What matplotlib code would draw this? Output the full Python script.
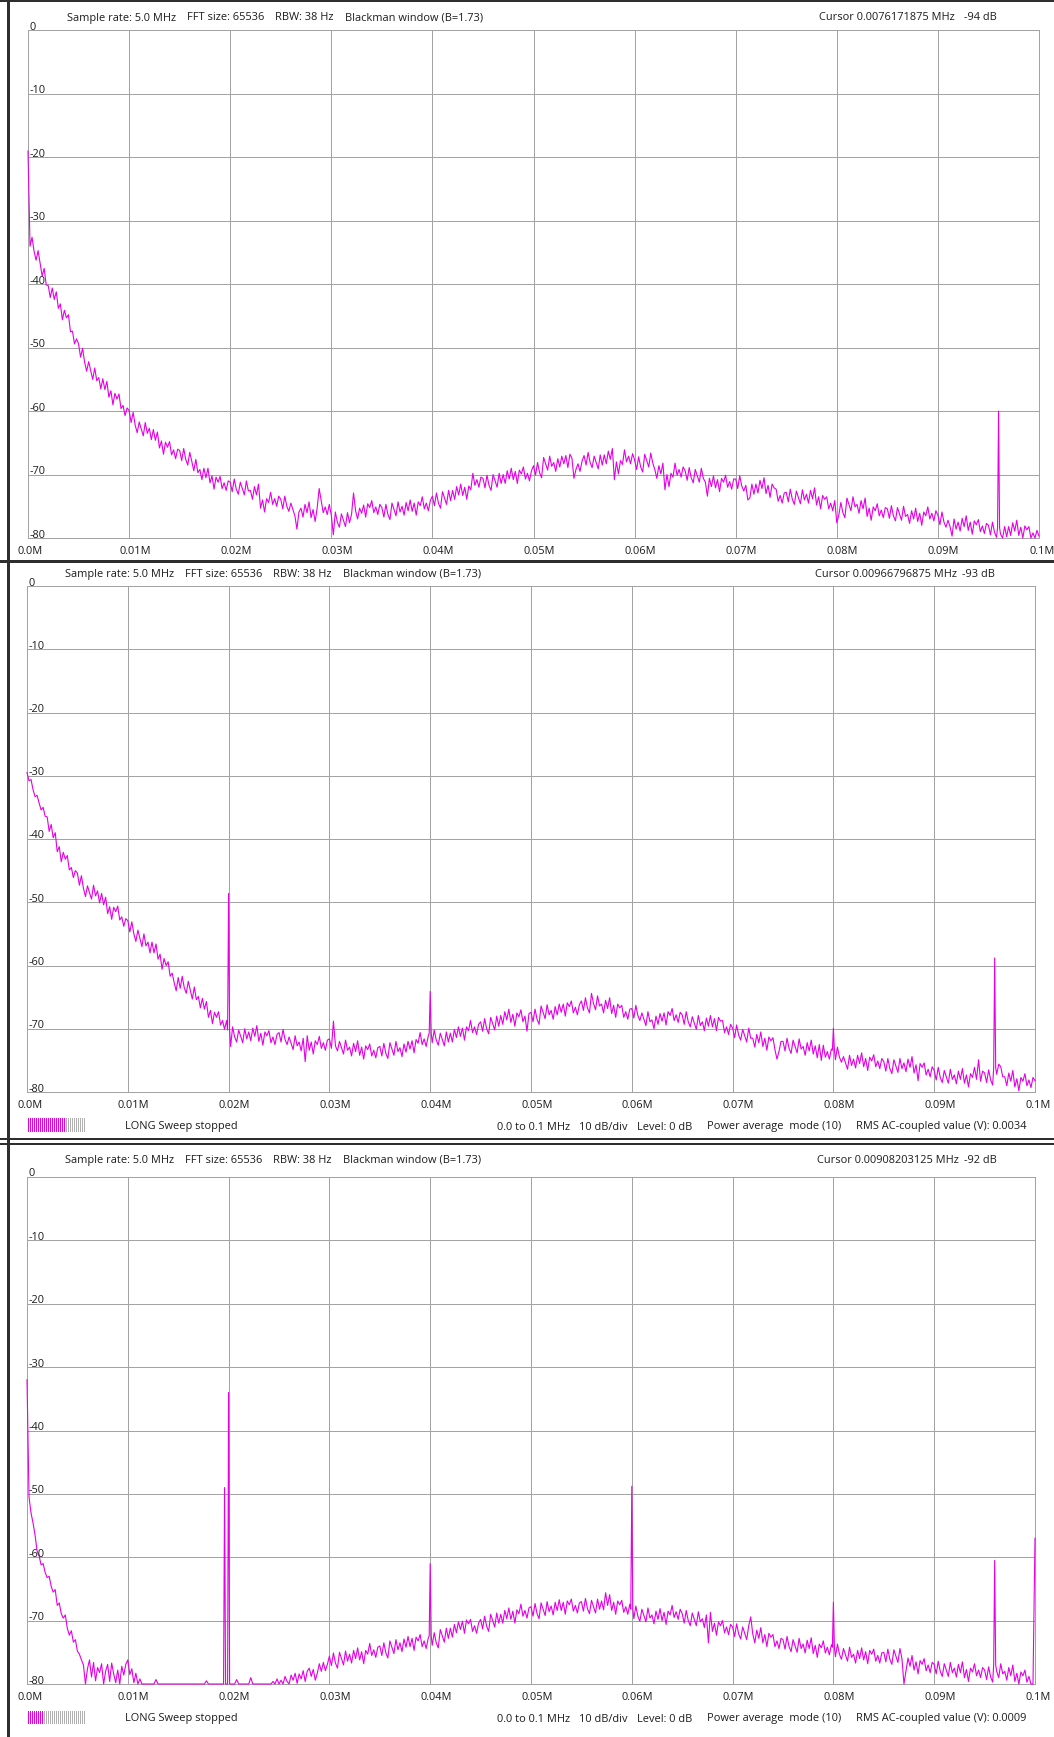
import numpy as np
import matplotlib
matplotlib.use("Agg")
import matplotlib.pyplot as plt
from matplotlib.lines import Line2D
from matplotlib.transforms import ScaledTranslation, blended_transform_factory

plt.rcParams['font.family'] = ['Open Sans', 'DejaVu Sans']

# ---------------------------------------------------------------- data
x_ticks = [0.0, 0.01, 0.02, 0.03, 0.04, 0.05, 0.06, 0.07, 0.08, 0.09, 0.1]
x_tick_labels = ["0.0M", "0.01M", "0.02M", "0.03M", "0.04M", "0.05M",
                 "0.06M", "0.07M", "0.08M", "0.09M", "0.1M"]
y_ticks = [0, -10, -20, -30, -40, -50, -60, -70, -80]
y_tick_labels = ["0", "-10", "-20", "-30", "-40", "-50", "-60", "-70", "-80"]

# Averaged spectrum levels (dB), one value every 0.2 kHz from 0 to 0.1 MHz
level_a = [
    -19.0, -34.0, -32.6, -34.8, -36.2, -34.7, -36.7, -38.7, -37.5, -40.1, -40.2, -42.1, -40.6, -42.4, -41.2,
    -43.8, -43.1, -45.6, -44.1, -45.3, -44.8, -47.5, -47.4, -49.4, -48.6, -49.4, -51.5, -50.1, -52.3, -53.7,
    -52.2, -53.6, -55.0, -53.2, -55.2, -54.7, -56.5, -54.9, -56.6, -55.3, -57.8, -56.8, -59.0, -57.2, -58.1,
    -57.3, -59.6, -59.1, -60.7, -59.5,
    -59.9, -61.8, -60.2, -62.2, -63.4, -61.7, -62.8, -63.9, -61.8, -63.5, -62.7, -64.5, -62.9, -64.6, -63.3,
    -65.8, -64.7, -66.8, -64.9, -65.7, -64.8, -66.9, -66.1, -67.5, -66.0, -66.2, -67.8, -65.9, -67.6, -68.5,
    -66.5, -67.9, -69.4, -67.6, -69.7, -69.2, -70.8, -69.0, -70.5, -69.0, -71.3, -70.2, -72.3, -70.4, -71.2,
    -70.3, -72.2, -71.3, -72.5, -71.0,
    -71.2, -72.7, -70.7, -72.3, -73.1, -71.2, -72.2, -73.2, -71.0, -72.6, -72.5, -73.9, -71.9, -73.2, -71.5,
    -75.3, -74.0, -75.9, -73.8, -74.4, -72.8, -74.7, -73.8, -75.0, -73.4, -73.9, -75.4, -73.4, -75.0, -75.8,
    -74.5, -75.5, -76.5, -78.6, -75.9, -75.3, -76.7, -74.7, -76.0, -74.3, -76.8, -75.5, -77.4, -75.3, -72.2,
    -74.1, -76.0, -75.1, -76.3, -74.7,
    -76.4, -79.5, -75.9, -77.5, -78.3, -76.2, -77.2, -78.2, -76.0, -77.6, -76.3, -72.9, -75.7, -77.0, -75.3,
    -76.1, -74.8, -76.7, -74.6, -75.2, -74.1, -76.0, -75.1, -76.3, -74.7, -75.2, -76.7, -74.7, -76.3, -77.1,
    -74.5, -75.5, -76.5, -74.3, -75.9, -75.0, -76.4, -74.4, -75.7, -74.0, -75.8, -74.5, -76.4, -74.3, -74.9,
    -73.5, -75.4, -74.5, -75.7, -74.1,
    -73.4, -74.9, -72.9, -74.5, -75.3, -72.7, -73.7, -74.7, -72.5, -74.1, -72.5, -73.9, -71.9, -73.2, -71.5,
    -73.3, -72.0, -73.9, -71.8, -72.4, -69.8, -71.7, -70.8, -72.0, -70.4, -70.6, -72.1, -70.1, -71.7, -72.5,
    -70.0, -71.0, -72.0, -69.8, -71.4, -70.0, -71.4, -69.4, -70.7, -69.0, -70.8, -69.5, -71.4, -69.3, -69.9,
    -68.8, -70.7, -69.8, -71.0, -69.4,
    -68.6, -70.1, -68.1, -69.7, -70.5, -67.3, -68.3, -69.3, -67.1, -68.7, -68.1, -69.5, -67.5, -68.8, -67.1,
    -68.3, -67.0, -68.9, -66.8, -67.4, -70.6, -69.2, -68.3, -69.5, -67.9, -67.0, -68.5, -66.5, -68.1, -68.9,
    -67.1, -68.1, -69.1, -66.9, -68.5, -66.9, -68.3, -66.3, -67.6, -65.9, -70.8, -68.0, -69.9, -67.8, -68.4,
    -66.1, -68.0, -67.1, -68.3, -66.7,
    -67.7, -69.2, -67.2, -68.8, -69.6, -66.8, -67.8, -68.8, -66.6, -68.2, -69.2, -70.6, -68.6, -69.9, -68.2,
    -72.4, -70.0, -71.9, -69.8, -70.4, -68.2, -70.1, -69.2, -70.4, -68.8, -69.4, -70.9, -68.9, -70.5, -71.3,
    -69.2, -70.2, -71.2, -69.0, -70.6, -71.2, -73.4, -70.6, -71.9, -70.2, -72.1, -70.8, -72.7, -70.6, -71.2,
    -70.1, -72.0, -71.1, -72.3, -70.7,
    -70.7, -72.2, -70.2, -71.8, -72.6, -71.7, -74.0, -73.7, -71.5, -73.1, -71.5, -72.9, -70.9, -72.2, -70.5,
    -73.0, -71.7, -73.6, -71.5, -72.1, -72.3, -74.2, -73.3, -74.5, -72.9, -72.8, -74.3, -72.3, -73.9, -74.7,
    -72.6, -73.6, -74.6, -72.4, -74.0, -73.1, -74.5, -72.5, -73.8, -72.1, -74.8, -73.5, -75.4, -73.3, -73.9,
    -73.5, -75.4, -74.5, -75.7, -74.1,
    -77.6, -76.4, -74.4, -76.0, -76.8, -73.7, -74.7, -75.7, -73.5, -75.1, -74.7, -76.1, -74.1, -75.4, -73.7,
    -76.6, -75.3, -77.2, -75.1, -75.7, -74.6, -76.5, -75.6, -76.8, -75.2, -75.4, -76.9, -74.9, -76.5, -77.3,
    -75.2, -76.2, -77.2, -75.0, -76.6, -76.3, -77.7, -75.7, -77.0, -75.3, -77.4, -76.1, -78.0, -75.9, -76.5,
    -75.1, -77.0, -76.1, -77.3, -75.7,
    -76.4, -77.9, -75.9, -77.5, -78.3, -77.2, -78.2, -79.7, -77.0, -78.6, -77.5, -78.9, -76.9, -78.2, -76.5,
    -78.8, -77.5, -79.4, -77.3, -77.9, -77.1, -79.0, -78.1, -79.3, -77.7, -78.0, -79.5, -77.5, -79.1, -79.9,
    -78.4, -79.4, -80.0, -78.2, -79.8, -78.2, -79.6, -77.6, -78.9, -77.2, -79.6, -78.3, -80.0, -78.1, -78.7,
    -78.2, -80.0, -79.2, -80.0, -78.8,
    -79.7,
]
level_b = [
    -29.5, -30.8, -30.6, -32.2, -33.3, -33.1, -34.3, -35.4, -35.0, -36.4, -36.5, -38.8, -37.7, -39.8, -39.0,
    -42.0, -41.2, -43.6, -42.1, -43.2, -42.6, -44.9, -44.5, -46.1, -45.0, -45.4, -47.3, -45.8, -47.8, -49.1,
    -47.4, -48.5, -49.5, -47.3, -49.0, -48.2, -50.1, -48.6, -50.4, -49.2, -51.8, -50.7, -52.7, -50.8, -51.5,
    -50.6, -52.8, -52.3, -53.8, -52.6,
    -52.9, -54.7, -53.1, -55.0, -56.2, -54.4, -55.7, -57.0, -55.0, -56.9, -56.3, -58.0, -56.3, -58.0, -56.6,
    -59.0, -58.2, -60.6, -58.9, -60.0, -59.4, -61.7, -61.2, -62.7, -64.0, -61.9, -63.6, -61.7, -63.5, -64.4,
    -62.5, -63.9, -65.3, -63.4, -65.4, -64.9, -66.7, -65.2, -66.9, -65.7, -68.2, -67.1, -69.2, -67.4, -68.2,
    -67.3, -69.4, -68.7, -70.1, -68.7,
    -70.2, -72.8, -69.7, -71.3, -72.1, -70.2, -71.2, -72.2, -70.0, -71.6, -70.5, -71.9, -69.9, -71.2, -69.5,
    -72.0, -70.7, -72.6, -70.5, -71.1, -70.3, -72.2, -71.3, -72.5, -70.9, -70.6, -72.1, -70.1, -71.7, -72.5,
    -71.3, -72.3, -73.3, -71.1, -72.7, -72.1, -73.5, -71.5, -75.2, -71.1, -73.4, -72.1, -74.0, -71.9, -72.5,
    -71.2, -73.1, -72.2, -73.4, -71.8,
    -71.6, -73.1, -68.8, -72.7, -73.5, -72.0, -73.0, -74.0, -71.8, -73.4, -72.9, -74.3, -72.3, -73.6, -71.9,
    -74.2, -72.9, -74.8, -72.7, -73.3, -72.4, -74.3, -73.4, -74.6, -73.0, -72.8, -74.3, -72.3, -73.9, -74.7,
    -72.2, -73.2, -74.2, -72.0, -73.6, -73.0, -74.4, -72.4, -73.7, -72.0, -73.2, -71.9, -73.8, -71.7, -72.3,
    -70.6, -72.5, -71.6, -72.8, -71.2,
    -70.7, -72.2, -70.2, -71.8, -72.6, -70.7, -71.7, -72.7, -70.5, -72.1, -70.7, -72.1, -70.1, -71.4, -69.7,
    -71.2, -69.9, -71.8, -69.7, -70.3, -68.7, -70.6, -69.7, -70.9, -69.3, -68.9, -70.4, -68.4, -70.0, -70.8,
    -68.2, -69.2, -70.2, -68.0, -69.6, -67.9, -69.3, -67.3, -68.6, -66.9, -69.0, -67.7, -69.6, -67.5, -68.1,
    -67.0, -68.9, -68.0, -70.4, -67.6,
    -67.4, -68.9, -66.9, -68.5, -69.3, -66.4, -67.4, -68.4, -66.2, -67.8, -67.1, -68.5, -66.5, -67.8, -66.1,
    -67.4, -66.1, -68.0, -65.9, -66.5, -65.6, -67.5, -66.6, -67.8, -66.2, -65.6, -67.1, -65.1, -66.7, -67.5,
    -64.4, -66.0, -67.0, -64.8, -66.4, -66.1, -67.5, -65.5, -66.8, -65.1, -67.6, -66.3, -68.2, -66.1, -66.7,
    -66.3, -68.2, -67.3, -68.5, -66.9,
    -66.8, -68.3, -66.3, -67.9, -68.7, -67.5, -68.5, -69.5, -67.3, -68.9, -68.6, -70.0, -68.0, -69.3, -67.6,
    -68.8, -67.5, -69.4, -67.3, -67.9, -66.8, -68.7, -67.8, -69.0, -67.4, -67.8, -69.3, -67.3, -68.9, -69.7,
    -68.1, -69.1, -70.1, -67.9, -69.5, -68.9, -70.3, -68.3, -69.6, -67.9, -69.7, -68.4, -70.3, -68.2, -68.8,
    -68.7, -70.6, -69.7, -70.9, -69.3,
    -69.9, -71.4, -69.4, -71.0, -71.8, -70.1, -71.1, -72.1, -69.9, -71.5, -71.5, -72.9, -70.9, -72.2, -70.5,
    -72.8, -71.5, -73.4, -71.3, -71.9, -71.4, -73.3, -74.8, -73.6, -72.0, -72.0, -73.5, -71.5, -73.1, -73.9,
    -71.8, -72.8, -73.8, -71.6, -73.2, -72.8, -74.2, -72.2, -73.5, -71.8, -74.0, -72.7, -74.6, -72.5, -75.0,
    -72.6, -74.5, -73.6, -74.8, -73.2,
    -73.4, -74.9, -72.9, -74.5, -75.3, -74.4, -75.4, -76.4, -74.2, -75.8, -74.8, -76.2, -74.2, -75.5, -73.8,
    -76.0, -74.7, -76.6, -74.5, -75.1, -74.1, -76.0, -75.1, -76.3, -74.7, -75.2, -76.7, -74.7, -76.3, -77.1,
    -74.9, -75.9, -76.9, -74.7, -76.3, -75.4, -76.8, -74.8, -76.1, -74.4, -77.0, -75.7, -78.2, -75.5, -76.1,
    -75.4, -77.3, -76.4, -77.6, -76.0,
    -76.6, -78.1, -76.1, -77.7, -78.5, -76.6, -77.6, -78.6, -76.4, -78.0, -77.3, -78.7, -76.7, -78.0, -76.3,
    -78.6, -77.3, -79.2, -77.1, -77.7, -76.1, -78.0, -74.9, -78.3, -76.7, -77.0, -78.5, -76.5, -78.1, -78.9,
    -76.2, -77.2, -75.6, -76.0, -77.6, -77.6, -79.0, -77.0, -78.3, -76.6, -79.2, -77.9, -79.8, -77.7, -78.3,
    -77.1, -79.0, -78.1, -79.3, -77.7,
    -78.2,
]
level_c = [
    -32.0, -50.5, -53.0, -54.6, -56.5, -59.0, -59.8, -61.2, -61.0, -62.4, -63.2, -63.0, -64.6, -65.5, -65.1,
    -67.6, -67.2, -68.9, -69.6, -69.1, -71.2, -72.3, -71.6, -73.4, -73.0, -74.8, -75.3, -76.2, -77.0, -80.0,
    -77.6, -76.2, -78.9, -76.6, -79.5, -77.4, -78.2, -76.8, -80.0, -78.0, -76.9, -79.6, -76.7, -78.4, -79.8,
    -77.8, -80.0, -77.2, -78.6, -76.9,
    -76.2, -78.5, -77.6, -79.8, -78.3, -80.0, -79.2, -80.0, -80.0, -80.0, -80.0, -80.0, -80.0, -80.0, -79.3,
    -80.0, -80.0, -80.0, -80.0, -80.0, -80.0, -80.0, -80.0, -80.0, -80.0, -80.0, -80.0, -80.0, -80.0, -80.0,
    -80.0, -80.0, -80.0, -80.0, -80.0, -80.0, -80.0, -80.0, -80.0, -79.5, -80.0, -80.0, -80.0, -80.0, -80.0,
    -80.0, -80.0, -80.0, -80.0, -80.0,
    -80.0, -80.0, -80.0, -80.0, -79.3, -80.0, -80.0, -80.0, -80.0, -80.0, -80.0, -79.0, -80.0, -80.0, -80.0,
    -80.0, -80.0, -80.0, -80.0, -80.0, -80.0, -80.0, -79.6, -80.0, -79.2, -80.0, -79.4, -80.0, -78.8, -79.6,
    -80.0, -78.6, -79.4, -78.3, -79.9, -78.4, -79.2, -77.9, -79.6, -78.0, -77.5, -78.8, -77.7, -79.4, -78.3,
    -76.8, -78.0, -76.6, -77.9, -76.9,
    -75.6, -77.1, -75.1, -76.7, -77.5, -75.0, -76.0, -77.0, -74.8, -76.4, -75.3, -76.7, -74.7, -76.0, -74.3,
    -76.2, -74.9, -76.8, -74.7, -75.3, -73.6, -75.5, -74.6, -75.8, -74.2, -74.0, -75.5, -73.5, -75.1, -75.9,
    -73.2, -74.2, -75.2, -73.0, -74.6, -73.5, -74.9, -72.9, -74.2, -72.5, -74.1, -72.8, -74.7, -72.6, -73.2,
    -72.2, -74.1, -73.2, -74.4, -72.8,
    -72.4, -73.9, -71.9, -73.5, -74.3, -71.4, -72.4, -73.4, -71.2, -72.8, -71.2, -72.6, -70.6, -71.9, -70.2,
    -71.4, -70.1, -72.0, -69.9, -70.5, -69.8, -71.7, -70.8, -72.0, -70.4, -69.8, -71.3, -69.3, -70.9, -71.7,
    -69.0, -70.0, -71.0, -68.8, -70.4, -69.0, -70.4, -68.4, -69.7, -68.0, -69.8, -68.5, -70.4, -68.3, -68.9,
    -67.4, -69.3, -68.4, -69.6, -68.0,
    -67.8, -69.3, -67.3, -68.9, -69.7, -67.2, -68.2, -69.2, -67.0, -68.6, -67.7, -69.1, -67.1, -68.4, -66.7,
    -68.4, -67.1, -69.0, -66.9, -67.5, -66.6, -68.5, -67.6, -68.8, -67.2, -67.0, -68.5, -66.5, -68.1, -68.9,
    -66.8, -67.8, -68.8, -66.6, -68.2, -66.9, -68.3, -65.6, -67.6, -65.9, -68.4, -67.1, -69.0, -66.9, -67.5,
    -66.8, -68.7, -67.8, -69.0, -67.4,
    -68.2, -69.7, -67.7, -69.3, -70.1, -68.2, -69.2, -70.2, -68.0, -69.6, -69.1, -70.5, -68.5, -69.8, -68.1,
    -70.0, -68.7, -70.6, -68.5, -69.1, -67.6, -69.5, -68.6, -69.8, -68.2, -68.9, -70.4, -68.4, -70.0, -70.8,
    -68.8, -69.8, -70.8, -68.6, -70.2, -69.7, -71.1, -69.1, -73.5, -68.7, -71.7, -70.4, -72.3, -70.2, -70.8,
    -70.0, -71.9, -71.0, -72.2, -70.6,
    -71.0, -72.5, -70.5, -72.1, -72.9, -71.0, -72.0, -73.0, -70.8, -69.4, -72.1, -73.5, -71.5, -72.8, -71.1,
    -73.5, -72.2, -74.1, -72.0, -72.6, -72.2, -74.1, -73.2, -74.4, -72.8, -73.0, -74.5, -72.5, -74.1, -74.9,
    -73.0, -74.0, -75.0, -72.8, -74.4, -73.7, -75.1, -73.1, -74.4, -72.7, -75.2, -73.9, -75.8, -73.7, -74.3,
    -73.2, -75.1, -74.2, -75.4, -73.8,
    -74.2, -75.7, -73.7, -75.3, -76.1, -74.4, -75.4, -76.4, -74.2, -75.8, -75.3, -76.7, -74.7, -76.0, -74.3,
    -76.2, -74.9, -76.8, -74.7, -75.3, -74.5, -76.4, -75.5, -76.7, -75.1, -75.0, -76.5, -74.5, -76.1, -76.9,
    -74.6, -75.6, -76.6, -74.4, -76.0, -80.0, -77.9, -75.9, -77.2, -75.5, -77.8, -76.5, -78.4, -76.3, -76.9,
    -76.0, -77.9, -77.0, -78.2, -76.6,
    -76.9, -78.4, -76.4, -78.0, -78.8, -76.8, -77.8, -78.8, -76.6, -78.2, -77.5, -78.9, -76.9, -78.2, -76.5,
    -79.0, -77.7, -79.6, -77.5, -78.1, -76.8, -78.7, -77.8, -79.0, -77.4, -77.8, -79.3, -77.3, -78.9, -79.7,
    -77.0, -78.0, -79.0, -76.8, -78.4, -78.0, -79.4, -77.4, -78.7, -77.0, -79.6, -78.3, -80.0, -78.1, -78.7,
    -77.8, -79.7, -78.8, -80.0, -80.0,
    -57.0,
]

# Narrow spurs (MHz, dB peak)
spur_freq_a = [0.0960]
spur_level_a = [-60.0]
spur_freq_b = [0.0200, 0.0400, 0.0800, 0.0960]
spur_level_b = [-48.6, -64.1, -69.9, -58.8]
spur_freq_c = [0.0196, 0.0200, 0.0400, 0.0600, 0.0800, 0.0960]
spur_level_c = [-49.0, -34.0, -61.0, -48.8, -67.1, -60.5]

header_fields = ["Sample rate: 5.0 MHz", "FFT size: 65536", "RBW: 38 Hz",
                 "Blackman window (B=1.73)"]
cursor_freqs = ["0.0076171875", "0.00966796875", "0.00908203125"]
cursor_levels = ["-94", "-93", "-92"]
status_fields = ["0.0 to 0.1 MHz", "10 dB/div", "Level: 0 dB",
                 "Power average  mode (10)"]
rms_values = [None, "0.0034", "0.0009"]
sweep_done = [None, 19, 8]
SWEEP_TICKS = 29

# ---------------------------------------------------------------- style
W, H = 1054, 1737
PT = 0.72                      # points per pixel at 100 dpi
TRACE = '#e600e6'
GRID = '#a3a3a3'
INK = '#1c1c1c'
FRAME = '#2e2e2e'
FS = 7.9

fig = plt.figure(figsize=(W / 100, H / 100), dpi=100, facecolor='white')


def fx(px):
    return px / W


def fy(py):
    return 1 - py / H


def off(dx_px, dy_px):
    return ScaledTranslation(dx_px / 100, dy_px / 100, fig.dpi_scale_trans)


def with_spurs(levels, s_freq, s_level, half=0.0001):
    lv = np.maximum(np.asarray(levels, float), -80.0)
    f = np.linspace(0.0, 0.1, len(lv))
    keep = np.ones(len(f), bool)
    for s in s_freq:
        keep &= np.abs(f - s) > half * 0.99
    xs = list(f[keep])
    ys = list(lv[keep])
    for s, p in zip(s_freq, s_level):
        b = float(np.interp(s, f, lv))
        xs += [s - half, s, s + half]
        ys += [b, p, b]
    order = np.argsort(xs, kind='stable')
    return np.asarray(xs)[order], np.asarray(ys)[order]


panels = [
    dict(box=(28, 1039, 30.5, 538), lev=level_a, sf=spur_freq_a, sl=spur_level_a,
         head=20.5, hx=67, cx=(819, 964)),
    dict(box=(27, 1035, 586, 1092), lev=level_b, sf=spur_freq_b, sl=spur_level_b,
         head=577, hx=65, cx=(815, 962), foot=1129.5, bar=(1118, 1132)),
    dict(box=(27, 1035, 1177, 1684), lev=level_c, sf=spur_freq_c, sl=spur_level_c,
         head=1163, hx=65, cx=(817, 964), foot=1721.5, bar=(1711, 1724)),
]

header_offsets = [0, 120, 208, 278]
status_offsets = [0, 82, 140, 210]

for i, p in enumerate(panels):
    l, r, t, b = p['box']
    ax = fig.add_axes([fx(l), fy(b), (r - l) / W, (b - t) / H])
    ax.set_xlim(0, 0.1)
    ax.set_ylim(-80, 0)
    ax.set_xticks(x_ticks)
    ax.set_yticks(y_ticks)
    ax.tick_params(length=0, labelbottom=False, labelleft=False)
    ax.grid(True, color=GRID, lw=PT)
    ax.set_axisbelow(True)
    for sp in ax.spines.values():
        sp.set_color(GRID)
        sp.set_linewidth(PT)

    xs, ys = with_spurs(p['lev'], p['sf'], p['sl'])
    ax.plot(xs, ys, color=TRACE, lw=0.8, clip_on=False, zorder=3)

    xtr = blended_transform_factory(ax.transData, ax.transAxes) + off(-10, -15.5)
    for f, lab in zip(x_ticks, x_tick_labels):
        ax.text(f, 0, lab, transform=xtr, ha='left', va='baseline',
                fontsize=FS, color=INK, clip_on=False)
    ytr = blended_transform_factory(ax.transAxes, ax.transData) + off(1.5, 0.5)
    for v, lab in zip(y_ticks, y_tick_labels):
        ax.text(0, v, lab, transform=ytr, ha='left', va='baseline',
                fontsize=FS, color=INK, clip_on=False)

    # header line
    for dx, s in zip(header_offsets, header_fields):
        fig.text(fx(p['hx'] + dx), fy(p['head']), s, ha='left', va='baseline',
                 fontsize=FS, color=INK)
    fig.text(fx(p['cx'][0]), fy(p['head']), f"Cursor {cursor_freqs[i]} MHz",
             ha='left', va='baseline', fontsize=FS, color=INK)
    fig.text(fx(p['cx'][1]), fy(p['head']), f"{cursor_levels[i]} dB",
             ha='left', va='baseline', fontsize=FS, color=INK)

    # status line with sweep indicator
    if 'foot' in p:
        fb = p['foot']
        fig.text(fx(125), fy(fb), "LONG Sweep stopped", ha='left', va='baseline',
                 fontsize=FS, color=INK)
        for dx, s in zip(status_offsets, status_fields):
            fig.text(fx(497 + dx), fy(fb), s, ha='left', va='baseline',
                     fontsize=FS, color=INK)
        fig.text(fx(856), fy(fb), f"RMS AC-coupled value (V): {rms_values[i]}",
                 ha='left', va='baseline', fontsize=FS, color=INK)
        y0, y1 = p['bar']
        bax = fig.add_axes([fx(27), fy(y1), 58 / W, (y1 - y0) / H])
        bax.set_axis_off()
        bax.set_xlim(-0.5, SWEEP_TICKS - 0.5)
        bax.set_ylim(0, 1)
        k = np.arange(SWEEP_TICKS)
        done = sweep_done[i]
        bax.vlines(k[:done], 0, 1, color=TRACE, lw=PT, antialiased=False)
        bax.vlines(k[done:], 0, 1, color='#b0b0b0', lw=PT, antialiased=False)


# window frame
def frame_line(x0, y0, x1, y1, w):
    fig.add_artist(Line2D([fx(x0), fx(x1)], [fy(y0), fy(y1)],
                          transform=fig.transFigure, color=FRAME, lw=w * PT))


frame_line(0, 1, W, 1, 2)
frame_line(7.5, 0, 7.5, H, 3)
frame_line(0, 561, W, 561, 3)
frame_line(0, 1139, W, 1139, 2)
frame_line(0, 1143.5, W, 1143.5, 2)

fig.savefig("out.png", dpi=100, facecolor='white')
